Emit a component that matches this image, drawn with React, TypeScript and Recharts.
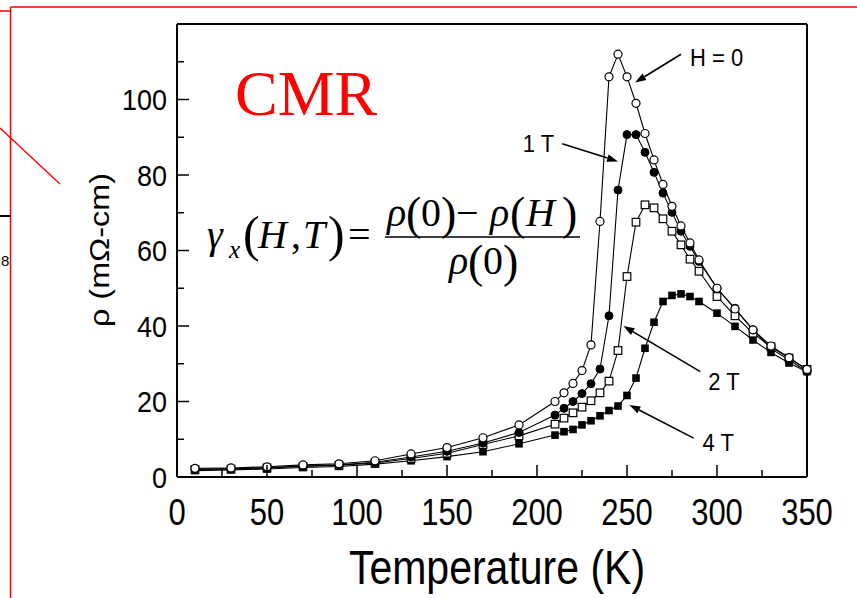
import React from "react";
import { LineChart, Line, XAxis, YAxis, ReferenceLine } from "recharts";

// temperature points (K)
const lowT = [10, 30, 50, 70, 90, 110, 130, 150, 170, 190];
const highT = [210, 215, 220, 225, 230, 235, 240, 245, 250, 255, 260, 265, 270, 275, 280, 285, 290, 300, 310, 320, 330, 340, 350];
const temps = [...lowT, ...highT];

// resistivity (mOhm-cm)
const rhoH0 = [2.3, 2.4, 2.7, 3.2, 3.5, 4.3, 6.1, 7.8, 10.4, 13.8,
  20, 22.3, 24.8, 28.2, 35, 67.7, 106, 112, 106, 99, 91, 84, 77.5, 71.7, 66.5, 62, 57.5, 50, 44.5, 39, 34.7, 31.6, 28.5];
const rho1T = [2.1, 2.2, 2.5, 2.9, 3.2, 3.9, 5.3, 6.8, 9.0, 11.8,
  16.4, 18.2, 20, 22.1, 24.7, 28.6, 42.7, 76, 90.7, 90.7, 86, 80.7, 75.2, 70.1, 65.1, 61.1, 57.1, 50, 44.7, 39, 34, 31, 28];
const rho2T = [2.0, 2.1, 2.4, 2.8, 3.1, 3.7, 4.9, 6.3, 8.6, 10.9,
  14, 15.6, 17, 18.5, 20.2, 22.3, 25.4, 33.5, 53.1, 67.5, 72.1, 71.3, 68.4, 65.1, 61.5, 57.7, 54.5, 47.8, 42.7, 38.1, 34.5, 31.5, 28.5];
const rho4T = [1.7, 1.9, 2.1, 2.5, 2.8, 3.4, 4.3, 5.4, 6.7, 8.8,
  11.1, 12, 12.6, 13.8, 14.9, 16.2, 17.6, 18.8, 21.6, 26.2, 34.1, 41, 46.5, 48.1, 48.5, 47.8, 46.5, 43.4, 39.9, 36.3, 33, 30.2, 27.9];

const xTicks = [0, 25, 50, 75, 100, 125, 150, 175, 200, 225, 250, 275, 300, 325, 350];
const yTicks = [0, 10, 20, 30, 40, 50, 60, 70, 80, 90, 100, 110, 120];

// arrow annotations: tail (label end) -> head, in data units
const arrows = [
  { label: "H = 0", from: [280, 112], to: [254.5, 104.5], dx: 9, dy: 3, anchor: "start" },
  { label: "1 T", from: [214, 88.3], to: [245, 83.6], dx: -8, dy: 0, anchor: "end" },
  { label: "2 T", from: [290.7, 27.9], to: [248, 40], dx: 8, dy: 10, anchor: "start" },
  { label: "4 T", from: [287, 10.3], to: [251.3, 19.1], dx: 9, dy: 4, anchor: "start" },
];

const rows = (vals: number[]) => temps.map((t, i) => ({ t, r: vals[i] }));

const SANS = "'Liberation Sans', Arial, Helvetica, sans-serif";
const SERIF = "'Liberation Serif', 'Times New Roman', serif";

const openCircle = (p: any) => (
  <circle key={`oc${p.index}`} cx={p.cx} cy={p.cy} r={4} fill="#fff" stroke="#000" strokeWidth={1.2} />
);
const fullCircle = (p: any) => (
  <circle key={`fc${p.index}`} cx={p.cx} cy={p.cy} r={4} fill="#000" stroke="#000" strokeWidth={1} />
);
const openSquare = (p: any) => (
  <rect key={`os${p.index}`} x={p.cx - 3.8} y={p.cy - 3.8} width={7.6} height={7.6} fill="#fff" stroke="#000" strokeWidth={1.2} />
);
const fullSquare = (p: any) => (
  <rect key={`fs${p.index}`} x={p.cx - 3.8} y={p.cy - 3.8} width={7.6} height={7.6} fill="#000" />
);

const XTick = ({ x, y, payload }: any) => {
  const v = payload.value;
  const major = v % 50 === 0;
  return (
    <g>
      <line x1={x} x2={x} y1={y} y2={y - (major ? 12 : 7)} stroke="#000" strokeWidth={1.5} />
      {major && (
        <text transform={`translate(${x},${y + 34}) scale(1,1.22)`} textAnchor="middle" dy="0.36em"
          fontFamily={SANS} fontSize={31} fill="#000">{v}</text>
      )}
    </g>
  );
};

const YTickLeft = ({ x, y, payload }: any) => {
  const v = payload.value;
  const major = v % 20 === 0;
  return (
    <g>
      <line x1={x} x2={x + (major ? 12 : 7)} y1={y} y2={y} stroke="#000" strokeWidth={1.5} />
      {major && v <= 100 && (
        <text transform={`translate(${x - 10},${y}) scale(1,1.1)`} textAnchor="end" dy="0.36em"
          fontFamily={SANS} fontSize={27} fill="#000">{v}</text>
      )}
    </g>
  );
};

const YTickRight = ({ x, y, payload }: any) => {
  const major = payload.value % 20 === 0;
  return <line x1={x} x2={x - (major ? 12 : 7)} y1={y} y2={y} stroke="#000" strokeWidth={1.5} />;
};

const Arrow = ({ x1, y1, x2, y2, a }: any) => {
  const ang = Math.atan2(y2 - y1, x2 - x1);
  const L = 11, W = 3.8;
  const bx = x2 - L * Math.cos(ang);
  const by = y2 - L * Math.sin(ang);
  const pts = [
    [x2, y2],
    [bx + W * Math.sin(ang), by - W * Math.cos(ang)],
    [bx - W * Math.sin(ang), by + W * Math.cos(ang)],
  ].map((q) => q.join(",")).join(" ");
  return (
    <g>
      <line x1={x1} y1={y1} x2={bx} y2={by} stroke="#000" strokeWidth={1.6} />
      <polygon points={pts} fill="#000" />
      <text transform={`translate(${x1 + a.dx},${y1 + a.dy}) scale(1,1.1)`} textAnchor={a.anchor} dy="0.36em"
        fontFamily={SANS} fontSize={22} fill="#000">{a.label}</text>
    </g>
  );
};

export default function App() {
  return (
    <div style={{ position: "absolute", left: 0, top: 0, width: 857, height: 598, background: "#fff", overflow: "hidden" }}>
      <LineChart width={857} height={598} margin={{ top: 14, right: 40, bottom: 81, left: 117 }}>
        <XAxis xAxisId="top" orientation="top" type="number" domain={[0, 350]} height={10} tick={false}
          tickLine={false} axisLine={{ stroke: "#000", strokeWidth: 2 }} />
        <XAxis type="number" dataKey="t" domain={[0, 350]} ticks={xTicks} height={40} tickSize={0} tickMargin={0}
          tick={XTick} interval={0} axisLine={{ stroke: "#000", strokeWidth: 2 }} allowDuplicatedCategory={false} />
        <YAxis type="number" domain={[0, 120]} ticks={yTicks} width={60} tickSize={0} tickMargin={0}
          tick={YTickLeft} interval={0} axisLine={{ stroke: "#000", strokeWidth: 2 }} />
        <YAxis yAxisId="right" orientation="right" type="number" domain={[0, 120]} ticks={yTicks} width={10}
          tickSize={0} tickMargin={0} tick={YTickRight} interval={0} axisLine={{ stroke: "#000", strokeWidth: 2 }} />
        <Line data={rows(rho4T)} dataKey="r" type="linear" stroke="#000" strokeWidth={1.1} dot={fullSquare} isAnimationActive={false} />
        <Line data={rows(rho2T)} dataKey="r" type="linear" stroke="#000" strokeWidth={1.1} dot={openSquare} isAnimationActive={false} />
        <Line data={rows(rho1T)} dataKey="r" type="linear" stroke="#000" strokeWidth={1.1} dot={fullCircle} isAnimationActive={false} />
        <Line data={rows(rhoH0)} dataKey="r" type="linear" stroke="#000" strokeWidth={1.1} dot={openCircle} isAnimationActive={false} />
        {arrows.map((a) => (
          <ReferenceLine key={a.label} segment={[{ x: a.from[0], y: a.from[1] }, { x: a.to[0], y: a.to[1] }]}
            shape={(p: any) => <Arrow x1={p.x1} y1={p.y1} x2={p.x2} y2={p.y2} a={a} />} />
        ))}
      </LineChart>

      <svg width={857} height={598} style={{ position: "absolute", left: 0, top: 0, pointerEvents: "none" }}>
        {/* axis titles */}
        <text transform="translate(99,250) rotate(-90) scale(1.2,1)" textAnchor="middle" dy="0.36em"
          fontFamily={SANS} fontSize={27} fill="#000">ρ (mΩ-cm)</text>
        <text transform="translate(497,584) scale(1,1.15)" textAnchor="middle" fontFamily={SANS} fontSize={41} fill="#000">
          Temperature (K)
        </text>

        {/* slide annotations */}
        <text x={235} y={115} fontFamily={SERIF} fontSize={64} fill="#ff0000">CMR</text>
        <g fontFamily={SERIF} fill="#000">
          <text x={207} y={248} fontSize={40} fontStyle="italic">γ</text>
          <text x={229} y={258} fontSize={25} fontStyle="italic">x</text>
          <text x={243} y={251} fontSize={50}>(</text>
          <text x={258} y={248} fontSize={40} fontStyle="italic">H</text>
          <text x={291} y={248} fontSize={40}>,</text>
          <text x={303} y={248} fontSize={40} fontStyle="italic">T</text>
          <text x={328} y={251} fontSize={50}>)</text>
          <text x={348} y={248} fontSize={40}>=</text>

          <text x={387} y={226} fontSize={40} fontStyle="italic">ρ</text>
          <text x={406} y={229} fontSize={46}>(</text>
          <text x={421} y={226} fontSize={40}>0</text>
          <text x={441} y={229} fontSize={46}>)</text>
          <text x={456} y={226} fontSize={40}>−</text>
          <text x={490} y={226} fontSize={40} fontStyle="italic">ρ</text>
          <text x={510} y={229} fontSize={46}>(</text>
          <text x={526} y={226} fontSize={40} fontStyle="italic">H</text>
          <text x={562} y={229} fontSize={46}>)</text>
          <line x1={385} x2={580} y1={237} y2={237} stroke="#000" strokeWidth={1.6} />
          <text x={449} y={274} fontSize={40} fontStyle="italic">ρ</text>
          <text x={468} y={277} fontSize={46}>(</text>
          <text x={483} y={274} fontSize={40}>0</text>
          <text x={503} y={277} fontSize={46}>)</text>
        </g>

        {/* slide frame remnants */}
        <line x1={10.5} y1={7} x2={10.5} y2={598} stroke="#ff0000" strokeWidth={1.5} />
        <line x1={10.5} y1={7} x2={857} y2={7} stroke="#ff0000" strokeWidth={1.5} />
        <line x1={0} y1={11} x2={10.5} y2={11} stroke="#ff0000" strokeWidth={1.5} />
        <line x1={0} y1={128} x2={60} y2={184} stroke="#ff0000" strokeWidth={1.3} />
        <line x1={0} y1={216} x2={10} y2={216} stroke="#000" strokeWidth={2} />
        <text x={1} y={266} fontFamily={SANS} fontSize={15} fill="#000">8</text>
      </svg>
    </div>
  );
}
